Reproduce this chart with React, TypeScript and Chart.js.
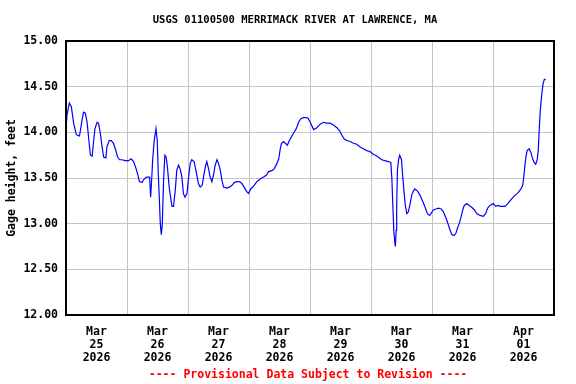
import React, { useEffect, useRef } from "react";
import { Chart, registerables } from "chart.js";

Chart.register(...registerables);

const chartTitle = "USGS 01100500 MERRIMACK RIVER AT LAWRENCE, MA";
const footerText = "---- Provisional Data Subject to Revision ----";
const yAxisTitle = "Gage height, feet";

// hours since Mar 25 2026 00:00
const hours = [
  0, 0.4, 1.3, 2.1, 3.0, 3.9, 4.3, 5.3, 5.9, 6.4, 6.9, 7.6, 8.3, 9.0, 9.6, 10.3, 10.9, 11.4, 12.2, 12.8,
  13.5, 14.2, 14.8, 15.7, 16.1, 17.0, 17.8, 18.7, 19.7, 20.3, 21.1, 22.0, 23.3, 24.6, 25.6, 26.6, 27.6, 28.5, 28.9, 29.9,
  30.5, 31.6, 32.9, 33.3, 33.7, 34.1, 34.7, 35.4, 35.9, 36.3, 36.7, 37.1, 37.5, 37.9, 38.4, 38.9, 39.4, 39.9, 40.6, 41.3,
  41.7, 42.3, 43.0, 43.6, 44.3, 44.9, 45.6, 46.2, 46.8, 47.6, 48.2, 48.9, 49.5, 50.4, 51.2, 52.1, 52.8, 53.6, 54.1, 54.8,
  55.4, 56.1, 56.7, 57.4, 58.0, 58.7, 59.4, 60.0, 60.7, 61.3, 62.0, 63.3, 64.3, 65.3, 66.2, 67.2, 68.3, 69.2, 70.1, 70.9,
  71.8, 72.7, 73.8, 75.1, 76.4, 77.7, 78.8, 79.7, 81.0, 81.9, 83.0, 83.7, 84.3, 84.8, 85.6, 86.3, 87.1, 87.7, 88.5, 89.5,
  90.6, 91.5, 92.4, 93.4, 94.8, 95.3, 96.1, 97.4, 98.7, 100.0, 101.3, 102.6, 103.9, 105.2, 106.6, 107.6, 108.5, 109.4, 110.5, 111.8,
  113.1, 114.4, 115.7, 117.0, 118.3, 119.6, 120.9, 122.3, 123.3, 124.2, 125.5, 126.8, 127.8, 128.2, 128.6, 129.0, 129.4, 129.6, 129.9, 130.1,
  130.4, 130.9, 131.3, 132.0, 132.5, 133.0, 133.5, 134.1, 134.7, 135.4, 136.0, 136.7, 137.3, 138.2, 139.3, 140.4, 141.3, 142.2, 143.0, 143.6,
  144.5, 145.6, 146.5, 147.6, 148.5, 149.1, 149.8, 150.4, 151.1, 151.8, 152.7, 153.5, 154.0, 154.7, 155.5, 156.1, 156.7, 157.7, 158.6, 159.6,
  160.7, 161.6, 162.9, 164.2, 165.1, 165.9, 166.8, 168.1, 169.1, 170.1, 170.8, 171.7, 172.7, 173.8, 174.7, 175.6, 176.6, 177.9, 179.0, 179.7,
  180.1, 180.5, 180.9, 181.4, 182.2, 182.9, 183.6, 184.2, 184.8, 185.4, 185.8, 186.2, 186.6, 187.2, 187.7, 188.2, 188.7,
];

const gageHeight = [
  14.04, 14.19, 14.32, 14.28, 14.10, 13.99, 13.97, 13.96, 14.06, 14.15, 14.22, 14.21, 14.11, 13.91, 13.75, 13.74, 13.91, 14.04, 14.11, 14.10,
  13.99, 13.84, 13.73, 13.72, 13.84, 13.91, 13.91, 13.88, 13.79, 13.73, 13.70, 13.70, 13.69, 13.69, 13.71, 13.68, 13.60, 13.51, 13.46, 13.45,
  13.48, 13.51, 13.51, 13.29, 13.48, 13.70, 13.91, 14.04, 13.91, 13.55, 13.29, 13.00, 12.88, 13.00, 13.48, 13.75, 13.73, 13.62, 13.40, 13.26,
  13.19, 13.19, 13.37, 13.59, 13.64, 13.60, 13.51, 13.33, 13.29, 13.33, 13.50, 13.66, 13.70, 13.68, 13.57, 13.44, 13.40, 13.42, 13.51, 13.62,
  13.68, 13.60, 13.51, 13.46, 13.53, 13.64, 13.70, 13.66, 13.59, 13.48, 13.40, 13.39, 13.40, 13.42, 13.45, 13.46, 13.46, 13.44, 13.40, 13.36,
  13.33, 13.38, 13.41, 13.46, 13.49, 13.51, 13.53, 13.57, 13.58, 13.60, 13.66, 13.71, 13.82, 13.88, 13.90, 13.88, 13.86, 13.90, 13.94, 13.99,
  14.04, 14.11, 14.15, 14.16, 14.16, 14.15, 14.11, 14.03, 14.05, 14.09, 14.11, 14.10, 14.10, 14.08, 14.05, 14.02, 13.97, 13.93, 13.91, 13.90,
  13.88, 13.87, 13.84, 13.82, 13.80, 13.79, 13.76, 13.74, 13.72, 13.70, 13.69, 13.68, 13.67, 13.50, 13.19, 12.91, 12.79, 12.75, 12.93, 13.19,
  13.59, 13.71, 13.75, 13.70, 13.51, 13.35, 13.20, 13.11, 13.13, 13.22, 13.31, 13.36, 13.38, 13.36, 13.31, 13.24, 13.18, 13.11, 13.09, 13.11,
  13.15, 13.16, 13.17, 13.16, 13.13, 13.09, 13.04, 12.99, 12.93, 12.88, 12.87, 12.90, 12.95, 13.00, 13.08, 13.15, 13.20, 13.22, 13.20, 13.18,
  13.15, 13.11, 13.09, 13.08, 13.11, 13.17, 13.20, 13.22, 13.19, 13.20, 13.19, 13.19, 13.19, 13.22, 13.25, 13.28, 13.31, 13.34, 13.38, 13.42,
  13.51, 13.62, 13.72, 13.80, 13.82, 13.78, 13.71, 13.67, 13.65, 13.70, 13.80, 14.04, 14.24, 14.42, 14.53, 14.58, 14.58,
];

const tickMonths = ["Mar", "Mar", "Mar", "Mar", "Mar", "Mar", "Mar", "Apr"];
const tickDays = ["25", "26", "27", "28", "29", "30", "31", "01"];
const tickYears = ["2026", "2026", "2026", "2026", "2026", "2026", "2026", "2026"];

const FONT = "'DejaVu Sans Mono', 'Liberation Mono', monospace";

const framePlugin = {
  id: "frameAndText",
  afterDraw(chart: any) {
    const { ctx, chartArea } = chart;
    ctx.save();
    ctx.strokeStyle = "#000000";
    ctx.lineWidth = 2;
    ctx.strokeRect(chartArea.left, chartArea.top, chartArea.right - chartArea.left, chartArea.bottom - chartArea.top);
    ctx.textAlign = "center";
    ctx.textBaseline = "middle";
    ctx.fillStyle = "#000000";
    ctx.font = `bold 10.5px ${FONT}`;
    ctx.fillText(chartTitle, 295, 20);
    ctx.fillStyle = "#ff0000";
    ctx.font = `bold 11.5px ${FONT}`;
    ctx.fillText(footerText, 308, 375.5);
    ctx.restore();
  },
};

export default function App() {
  const canvasRef = useRef<HTMLCanvasElement | null>(null);

  useEffect(() => {
    document.body.style.margin = "0";
    const canvas = canvasRef.current;
    if (!canvas) return;
    const points = hours.map((h, i) => ({ x: h, y: gageHeight[i] }));
    const chart = new Chart(canvas, {
      type: "line",
      data: {
        datasets: [
          {
            data: points,
            borderColor: "#0000ff",
            borderWidth: 1.2,
            pointRadius: 0,
            tension: 0,
            fill: false,
          },
        ],
      },
      options: {
        animation: false,
        responsive: false,
        devicePixelRatio: 1,
        layout: { padding: { top: 41, right: 22, bottom: 0, left: 0 } },
        plugins: {
          legend: { display: false },
          tooltip: { enabled: false },
          title: { display: false },
        },
        scales: {
          x: {
            type: "linear",
            min: 0,
            max: 192,
            afterBuildTicks: (axis: any) => {
              const t = [];
              for (let v = 0; v <= 192; v += 12) t.push({ value: v });
              axis.ticks = t;
            },
            afterFit: (axis: any) => {
              axis.height = 69;
            },
            grid: {
              drawTicks: false,
              color: (c: any) => (c.tick && c.tick.value % 24 === 0 ? "#c4c4c4" : "rgba(0,0,0,0)"),
              lineWidth: 1,
            },
            border: { display: false },
            ticks: {
              autoSkip: false,
              maxRotation: 0,
              minRotation: 0,
              padding: 10,
              color: "#000000",
              font: { family: FONT, size: 11.5, weight: "bold", lineHeight: 1.15 },
              callback: (value: any) => {
                const v = Number(value);
                if (v % 24 !== 12) return "";
                const i = (v - 12) / 24;
                return [tickMonths[i], tickDays[i], tickYears[i]];
              },
            },
          },
          y: {
            type: "linear",
            min: 12,
            max: 15,
            afterFit: (axis: any) => {
              axis.width = 66;
            },
            grid: { drawTicks: false, color: "#c4c4c4", lineWidth: 1 },
            border: { display: false },
            ticks: {
              stepSize: 0.5,
              padding: 8,
              color: "#000000",
              font: { family: FONT, size: 11.5, weight: "bold" },
              callback: (value: any) => Number(value).toFixed(2),
            },
            title: {
              display: true,
              text: yAxisTitle,
              color: "#000000",
              padding: { top: 5, bottom: 0 },
              font: { family: FONT, size: 11.5, weight: "bold" },
            },
          },
        },
      },
      plugins: [framePlugin],
    } as any);
    return () => chart.destroy();
  }, []);

  return (
    <div style={{ position: "fixed", left: 0, top: 0, width: 576, height: 384, background: "#ffffff" }}>
      <canvas ref={canvasRef} width={576} height={384} />
    </div>
  );
}
